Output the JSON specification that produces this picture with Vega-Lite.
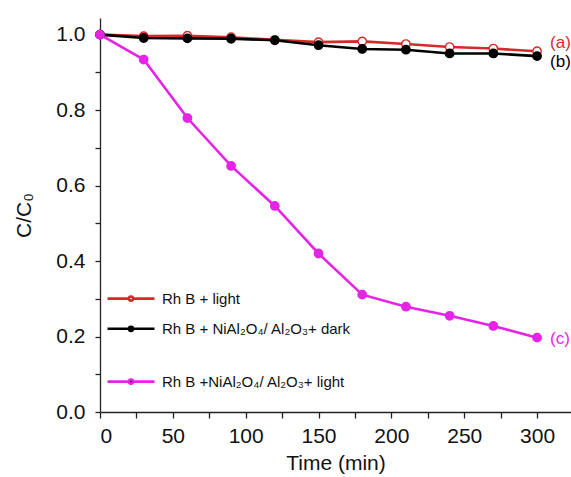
{
  "$schema": "https://vega.github.io/schema/vega-lite/v6.json",
  "width": 471,
  "height": 394,
  "autosize": {"type": "none"},
  "padding": {"left": 100, "top": 18, "right": 0, "bottom": 65},
  "background": "white",
  "config": {
    "view": {"stroke": null},
    "font": "Liberation Sans",
    "legend": {"padding": 0},
    "axis": {
      "grid": false,
      "domainColor": "#222",
      "domainWidth": 1.3,
      "tickColor": "#222",
      "tickWidth": 1.3,
      "tickSize": 5,
      "labelFont": "Liberation Sans",
      "labelFontSize": 21,
      "labelColor": "#111",
      "titleFont": "Liberation Sans",
      "titleFontSize": 21,
      "titleFontWeight": "normal",
      "titleColor": "#111"
    }
  },
  "datasets": {
    "main": [
      {"t": 0, "v": 1.0, "s": "Rh B + light"},
      {"t": 30, "v": 0.996, "s": "Rh B + light"},
      {"t": 60, "v": 0.997, "s": "Rh B + light"},
      {"t": 90, "v": 0.993, "s": "Rh B + light"},
      {"t": 120, "v": 0.986, "s": "Rh B + light"},
      {"t": 150, "v": 0.980, "s": "Rh B + light"},
      {"t": 180, "v": 0.982, "s": "Rh B + light"},
      {"t": 210, "v": 0.975, "s": "Rh B + light"},
      {"t": 240, "v": 0.967, "s": "Rh B + light"},
      {"t": 270, "v": 0.963, "s": "Rh B + light"},
      {"t": 300, "v": 0.956, "s": "Rh B + light"},
      {"t": 0, "v": 1.0, "s": "Rh B + NiAl₂O₄/ Al₂O₃+ dark"},
      {"t": 30, "v": 0.991, "s": "Rh B + NiAl₂O₄/ Al₂O₃+ dark"},
      {"t": 60, "v": 0.990, "s": "Rh B + NiAl₂O₄/ Al₂O₃+ dark"},
      {"t": 90, "v": 0.989, "s": "Rh B + NiAl₂O₄/ Al₂O₃+ dark"},
      {"t": 120, "v": 0.985, "s": "Rh B + NiAl₂O₄/ Al₂O₃+ dark"},
      {"t": 150, "v": 0.972, "s": "Rh B + NiAl₂O₄/ Al₂O₃+ dark"},
      {"t": 180, "v": 0.962, "s": "Rh B + NiAl₂O₄/ Al₂O₃+ dark"},
      {"t": 210, "v": 0.960, "s": "Rh B + NiAl₂O₄/ Al₂O₃+ dark"},
      {"t": 240, "v": 0.950, "s": "Rh B + NiAl₂O₄/ Al₂O₃+ dark"},
      {"t": 270, "v": 0.950, "s": "Rh B + NiAl₂O₄/ Al₂O₃+ dark"},
      {"t": 300, "v": 0.943, "s": "Rh B + NiAl₂O₄/ Al₂O₃+ dark"},
      {"t": 0, "v": 1.0, "s": "Rh B +NiAl₂O₄/ Al₂O₃+ light"},
      {"t": 30, "v": 0.934, "s": "Rh B +NiAl₂O₄/ Al₂O₃+ light"},
      {"t": 60, "v": 0.779, "s": "Rh B +NiAl₂O₄/ Al₂O₃+ light"},
      {"t": 90, "v": 0.652, "s": "Rh B +NiAl₂O₄/ Al₂O₃+ light"},
      {"t": 120, "v": 0.546, "s": "Rh B +NiAl₂O₄/ Al₂O₃+ light"},
      {"t": 150, "v": 0.420, "s": "Rh B +NiAl₂O₄/ Al₂O₃+ light"},
      {"t": 180, "v": 0.311, "s": "Rh B +NiAl₂O₄/ Al₂O₃+ light"},
      {"t": 210, "v": 0.279, "s": "Rh B +NiAl₂O₄/ Al₂O₃+ light"},
      {"t": 240, "v": 0.255, "s": "Rh B +NiAl₂O₄/ Al₂O₃+ light"},
      {"t": 270, "v": 0.228, "s": "Rh B +NiAl₂O₄/ Al₂O₃+ light"},
      {"t": 300, "v": 0.197, "s": "Rh B +NiAl₂O₄/ Al₂O₃+ light"}
    ],
    "tags": [
      {"t": 300, "v": 0.978, "lab": "(a)", "s": "Rh B + light"},
      {"t": 300, "v": 0.927, "lab": "(b)", "s": "Rh B + NiAl₂O₄/ Al₂O₃+ dark"},
      {"t": 300, "v": 0.194, "lab": "(c)", "s": "Rh B +NiAl₂O₄/ Al₂O₃+ light"}
    ]
  },
  "data": {"name": "main"},
  "encoding": {
    "x": {
      "field": "t", "type": "quantitative",
      "scale": {"domain": [0, 323.3], "nice": false, "zero": false},
      "axis": {
        "title": "Time (min)",
        "values": [0, 25, 50, 75, 100, 125, 150, 175, 200, 225, 250, 275, 300],
        "labelExpr": "datum.value % 50 == 0 ? datum.value : ''",
        "labelPadding": 7,
        "titlePadding": 6,
        "tickSize": 6
      }
    },
    "y": {
      "field": "v", "type": "quantitative",
      "scale": {"domain": [0, 1.044], "nice": false, "zero": false},
      "axis": {
        "title": "C/C₀",
        "values": [0, 0.1, 0.2, 0.3, 0.4, 0.5, 0.6, 0.7, 0.8, 0.9, 1.0],
        "labelExpr": "round(datum.value*10) % 2 == 0 ? format(datum.value, '.1f') : ''",
        "labelPadding": 10,
        "titlePadding": 21
      }
    }
  },
  "layer": [
    {
      "mark": {"type": "rule", "color": "#222", "strokeWidth": 1.3},
      "data": {"values": [{}]},
      "encoding": {
        "x": {"datum": 0},
        "x2": {"datum": 323.3},
        "y": {"datum": 1.044}
      }
    },
    {
      "mark": {"type": "line", "strokeWidth": 2.6},
      "encoding": {
        "color": {
          "field": "s", "type": "nominal",
          "scale": {
            "domain": ["Rh B +NiAl₂O₄/ Al₂O₃+ light", "Rh B + light", "Rh B + NiAl₂O₄/ Al₂O₃+ dark"],
            "range": ["#e524e5", "#d42a2a", "#000000"]
          },
          "legend": null
        }
      }
    },
    {
      "mark": {"type": "point", "shape": "circle", "filled": true, "size": 70, "strokeWidth": 1.4, "opacity": 1},
      "encoding": {
        "fill": {
          "field": "s", "type": "nominal",
          "scale": {
            "domain": ["Rh B + light", "Rh B + NiAl₂O₄/ Al₂O₃+ dark", "Rh B +NiAl₂O₄/ Al₂O₃+ light"],
            "range": ["#ffffff", "#000000", "#e524e5"]
          },
          "legend": {
            "title": null,
            "orient": "none",
            "legendX": 20,
            "legendY": 269.6,
            "values": ["Rh B + light", "Rh B + NiAl₂O₄/ Al₂O₃+ dark"],
            "symbolType": "M-2.5,0H-0.3M0.3,0H2.5M0.22,0A0.22,0.22 0 1,1 -0.22,0A0.22,0.22 0 1,1 0.22,0Z",
            "symbolSize": 353,
            "symbolStrokeWidth": 2.6,
            "symbolOpacity": 1,
            "labelFont": "Liberation Sans",
            "labelFontSize": 15,
            "labelColor": "#111",
            "labelOffset": 20,
            "rowPadding": 11.2,
            "labelLimit": 400,
            "encode": {"symbols": {"update": {"stroke": {"scale": "stroke", "field": "value"}}}}
          }
        },
        "stroke": {
          "field": "s", "type": "nominal",
          "scale": {
            "domain": ["Rh B + NiAl₂O₄/ Al₂O₃+ dark", "Rh B + light", "Rh B +NiAl₂O₄/ Al₂O₃+ light"],
            "range": ["#000000", "#d42a2a", "#e524e5"]
          },
          "legend": {
            "title": null,
            "orient": "none",
            "legendX": 20,
            "legendY": 352.6,
            "values": ["Rh B +NiAl₂O₄/ Al₂O₃+ light"],
            "symbolType": "M-2.5,0H-0.3M0.3,0H2.5M0.22,0A0.22,0.22 0 1,1 -0.22,0A0.22,0.22 0 1,1 0.22,0Z",
            "symbolSize": 353,
            "symbolStrokeWidth": 2.6,
            "symbolOpacity": 1,
            "labelFont": "Liberation Sans",
            "labelFontSize": 15,
            "labelColor": "#111",
            "labelOffset": 20,
            "labelLimit": 400
          }
        }
      }
    },
    {
      "data": {"name": "tags"},
      "mark": {"type": "text", "align": "left", "baseline": "middle", "dx": 13, "fontSize": 17, "font": "Liberation Sans"},
      "encoding": {
        "text": {"field": "lab"},
        "color": {
          "field": "s", "type": "nominal",
          "scale": {
            "domain": ["Rh B +NiAl₂O₄/ Al₂O₃+ light", "Rh B + light", "Rh B + NiAl₂O₄/ Al₂O₃+ dark"],
            "range": ["#e524e5", "#d42a2a", "#000000"]
          },
          "legend": null
        }
      }
    }
  ]
}
